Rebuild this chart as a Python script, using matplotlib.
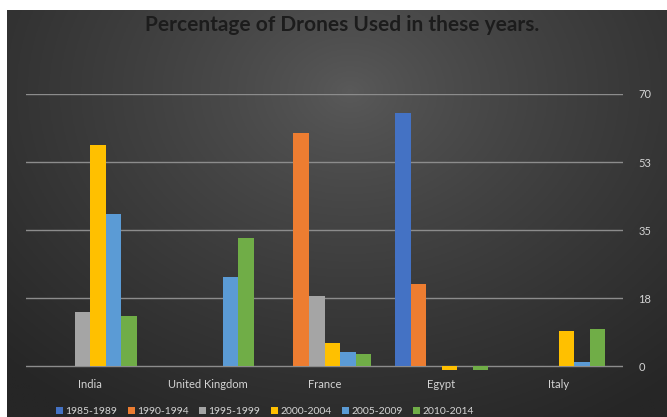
import numpy as np
import matplotlib.pyplot as plt

# dati
countries = ["India", "United Kingdom", "France", "Egypt", "Italy"]
periods = ["1985-1989", "1990-1994", "1995-1999", "2000-2004", "2005-2009", "2010-2014"]
s_1985 = [0, 0, 0, 65, 0]
s_1990 = [0, 0, 60, 21, 0]
s_1995 = [14, 0, 18, 0, 0]
s_2000 = [57, 0, 6, -1, 9]
s_2005 = [39, 23, 3.5, 0, 1]
s_2010 = [13, 33, 3, -1, 9.5]
y_ticks = [0, 17.5, 35, 52.5, 70]
y_tick_labels = ["0", "18", "35", "53", "70"]

series = [s_1985, s_1990, s_1995, s_2000, s_2005, s_2010]
colors = ["#4472C4", "#ED7D31", "#A5A5A5", "#FFC000", "#5B9BD5", "#70AD47"]

plt.rcParams['font.family'] = ['Lato', 'DejaVu Sans']

W, H = 667, 417
fig = plt.figure(figsize=(W / 100, H / 100), dpi=100, facecolor="white")

# sfondo con gradiente radiale
bg = fig.add_axes([7 / W, 0, 1 - 7 / W, 407 / H])
gx, gy = np.meshgrid(np.linspace(0, 1, 300), np.linspace(0, 1, 200))
d = np.sqrt(((gx - 0.52) / 0.75) ** 2 + ((gy - 0.2) / 0.95) ** 2)
d = np.clip(d, 0, 1)
light = np.array([0x5a, 0x5a, 0x5a]) / 255
dark = np.array([0x26, 0x26, 0x26]) / 255
img = light[None, None, :] + (dark - light)[None, None, :] * d[:, :, None] ** 0.8
bg.imshow(img, aspect="auto", extent=[0, 1, 0, 1], origin="upper")
bg.axis("off")

# area del grafico
ax = fig.add_axes([26 / W, 0.1036, 597 / W, 0.671])
ax.set_facecolor("none")

x = np.arange(len(countries))
bar_w = 0.1325
for j, vals in enumerate(series):
    ax.bar(x + (j - 2.5) * bar_w, vals, width=bar_w, color=colors[j],
           label=periods[j], zorder=3)

ax.set_xlim(-0.55, 4.55)
ax.set_ylim(-2, 70)
ax.set_yticks(y_ticks)
ax.set_yticklabels(y_tick_labels)
ax.yaxis.tick_right()
ax.grid(axis="y", color="#8c8c8c", linewidth=1, zorder=0)
for s in ax.spines.values():
    s.set_visible(False)
ax.set_xticks(x)
ax.set_xticklabels(countries)
ax.tick_params(axis="x", length=0, pad=4, labelsize=8, labelcolor="#d4d4d4")
ax.tick_params(axis="y", length=0, pad=11, labelsize=8, labelcolor="#d4d4d4")

fig.text(0.513, 0.94, "Percentage of Drones Used in these years.", ha="center",
         va="center", fontsize=15, fontweight="bold", color="#1c1c1c")

leg = fig.legend(loc="center", bbox_to_anchor=(0.397, 0.014), ncol=6, frameon=False,
                 fontsize=7.5, handlelength=0.7, handleheight=0.7, handletextpad=0.2,
                 columnspacing=1.0, labelcolor="#d4d4d4")

plt.savefig("out.png", dpi=100)
plt.close()
